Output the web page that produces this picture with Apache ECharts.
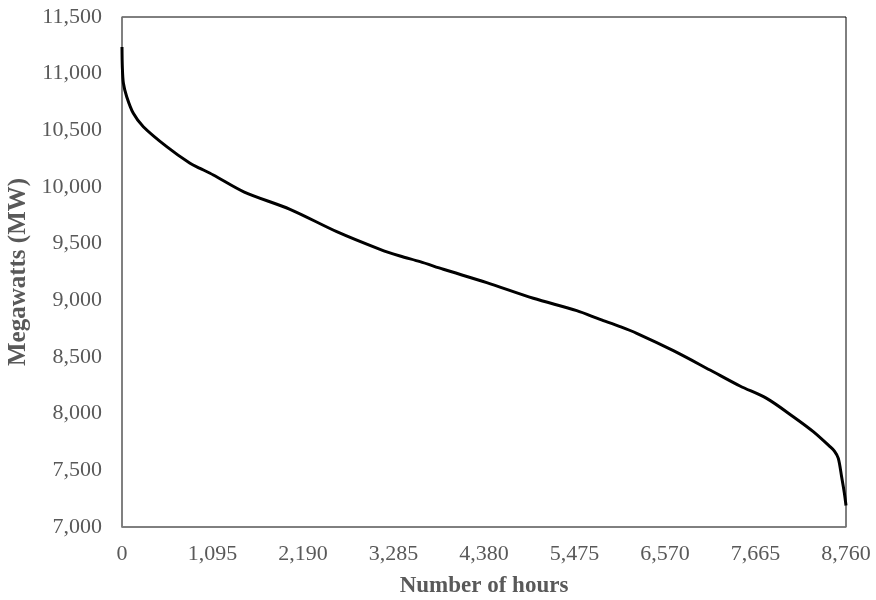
<!DOCTYPE html>
<html>
<head>
<meta charset="utf-8">
<script src="https://cdn.jsdelivr.net/npm/echarts@6/dist/echarts.min.js"></script>
<style>html,body{margin:0;padding:0;background:#fff}#c{width:876px;height:600px}</style>
</head>
<body>
<div id="c"></div>
<script>
const hours = [0, 4, 17, 57, 137, 258, 541, 823, 944, 1105, 1480, 2033, 2598, 3122, 3364, 3606, 3888, 4413, 4977, 5502, 5784, 6026, 6228, 6671, 7115, 7477, 7800, 8122, 8364, 8566, 8620, 8667, 8707, 8740, 8760];
const megawatts = [11235, 11060, 10915, 10797, 10650, 10532, 10356, 10209, 10165, 10106, 9955, 9803, 9606, 9450, 9391, 9341, 9274, 9156, 9018, 8909, 8832, 8768, 8709, 8556, 8385, 8244, 8135, 7973, 7841, 7709, 7670, 7606, 7444, 7300, 7190];
const xTicks = [0, 1095, 2190, 3285, 4380, 5475, 6570, 7665, 8760];
const xTitle = 'Number of hours';
const yTitle = 'Megawatts (MW)';

const fmt = v => v.toLocaleString('en-US');
const font = 'Liberation Serif';
const chart = echarts.init(document.getElementById('c'), null, {renderer: 'canvas'});
chart.setOption({
  animation: false,
  backgroundColor: '#fff',
  grid: {left: 122, right: 30, top: 17, bottom: 73, containLabel: false, outerBoundsMode: 'none',
    show: true, borderColor: '#000', borderWidth: 1, backgroundColor: 'transparent'},
  xAxis: {
    type: 'value', min: 0, max: 8760, interval: 1095,
    name: xTitle, nameLocation: 'middle', nameGap: 48,
    nameTextStyle: {fontFamily: font, fontWeight: 'bold', fontSize: 23, color: '#595959'},
    axisLine: {show: true, lineStyle: {color: '#808080', width: 1.5}},
    axisTick: {show: false},
    splitLine: {show: false},
    axisLabel: {fontFamily: font, fontSize: 22, color: '#595959', margin: 16, formatter: v => fmt(v)}
  },
  yAxis: {
    type: 'value', min: 7000, max: 11500, interval: 500,
    name: yTitle, nameLocation: 'middle', nameGap: 89, nameRotate: 90,
    nameTextStyle: {fontFamily: font, fontWeight: 'bold', fontSize: 25, color: '#595959'},
    axisLine: {show: true, lineStyle: {color: '#808080', width: 1.5}},
    axisTick: {show: false},
    splitLine: {show: false},
    axisLabel: {fontFamily: font, fontSize: 22, color: '#595959', margin: 20, formatter: v => fmt(v)}
  },
  series: [{
    type: 'line',
    data: hours.map((h, i) => [h, megawatts[i]]),
    showSymbol: false,
    smooth: 0.3,
    lineStyle: {color: '#000', width: 3}
  }]
});
</script>
</body>
</html>
